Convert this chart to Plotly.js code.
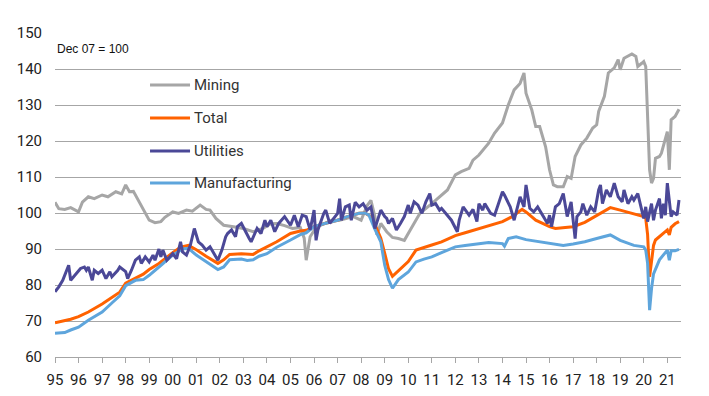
<!DOCTYPE html>
<html>
<head>
<meta charset="utf-8">
<script src="https://cdn.plot.ly/plotly-3.0.1.min.js"></script>
<style>html,body{margin:0;padding:0;background:#fff;}#chart{width:709px;height:396px;}</style>
</head>
<body>
<div id="chart"></div>
<script>
// ---- Data (index, Dec 07 = 100) ----
const seriesNames = ["Mining", "Total", "Utilities", "Manufacturing"];
const seriesColors = ["#a6a6a6", "#ff6200", "#4b4897", "#5ea5dc"];

const tickYears = ["1995-01-01","1996-01-01","1997-01-01","1998-01-01","1999-01-01","2000-01-01","2001-01-01","2002-01-01","2003-01-01","2004-01-01","2005-01-01","2006-01-01","2007-01-01","2008-01-01","2009-01-01","2010-01-01","2011-01-01","2012-01-01","2013-01-01","2014-01-01","2015-01-01","2016-01-01","2017-01-01","2018-01-01","2019-01-01","2020-01-01","2021-01-01"];
const tickLabels = ["95","96","97","98","99","00","01","02","03","04","05","06","07","08","09","10","11","12","13","14","15","16","17","18","19","20","21"];
const yTicks = [60,70,80,90,100,110,120,130,140,150];

const totalDates = ["1995-01","1995-06","1995-09","1996-01","1996-06","1997-01","1997-06","1997-10","1998-01","1998-06","1998-10","1999-01","1999-06","2000-01","2000-05","2000-09","2001-01","2001-06","2001-12","2002-03","2002-06","2002-12","2003-03","2003-06","2003-09","2004-01","2004-06","2005-01","2005-06","2005-09","2006-01","2006-06","2007-01","2007-06","2007-12","2008-03","2008-06","2008-09","2008-11","2009-01","2009-03","2009-05","2009-08","2010-01","2010-05","2010-09","2011-01","2011-06","2012-01","2012-06","2013-01","2013-06","2014-01","2014-06","2014-11","2015-01","2015-06","2016-01","2016-04","2016-09","2017-01","2017-07","2018-01","2018-08","2019-01","2019-08","2020-01","2020-02","2020-03","2020-04","2020-05","2020-06","2020-07","2020-10","2021-01","2021-02","2021-03","2021-05","2021-07"];
const totalValues = [69.5,70.0,70.5,71.2,72.5,74.7,76.5,78,80.5,82,83,84.3,86,89,90.5,91,89.8,88,86,87,88.5,88.7,88.5,88.5,89.5,90.6,92,94.3,95,95.2,96.2,97,98,99,99.9,100,99,95.5,93,88.8,84.5,82.4,84,86.5,89.7,90.5,91.1,92,93.7,94.5,95.6,96.5,97.6,99,101,100.3,98,96.2,95.7,96,96.2,97.4,99.4,101.5,100.8,99.8,99,98.5,94,82.3,87,91,92.5,94,95.3,93.9,96,97,97.6];

const manufDates = ["1995-01","1995-06","1995-09","1996-01","1996-06","1997-01","1997-06","1997-10","1998-01","1998-06","1998-10","1999-01","1999-06","2000-01","2000-06","2000-09","2001-01","2001-06","2001-12","2002-03","2002-06","2002-12","2003-03","2003-06","2003-09","2004-01","2004-06","2005-01","2005-06","2005-09","2006-01","2006-06","2007-01","2007-06","2007-12","2008-03","2008-05","2008-08","2008-11","2009-01","2009-03","2009-05","2009-08","2010-01","2010-05","2010-09","2011-01","2011-06","2012-01","2012-06","2013-01","2013-06","2014-01","2014-02","2014-04","2014-08","2015-01","2015-06","2016-01","2016-08","2017-01","2017-07","2018-01","2018-08","2019-01","2019-08","2020-01","2020-02","2020-03","2020-04","2020-05","2020-06","2020-09","2021-01","2021-02","2021-03","2021-05","2021-07"];
const manufValues = [66.6,66.8,67.5,68.3,70.2,72.5,75,77,79.8,81.3,81.5,82.7,85,88.3,90,90.2,88.3,86.5,84.3,85,87,87.2,86.8,87,88,88.7,90.5,92.5,94,94.5,96.2,97,98,99,99.9,100,99.4,95.5,92,85.5,81.5,79.1,81.5,83.6,86.4,87.2,87.8,89,90.6,91,91.5,91.8,91.5,90.8,92.9,93.4,92.6,92.2,91.5,91,91.4,92,92.9,93.9,92.4,91,90.6,89.7,86,73,79,83.1,87,89.7,86.9,89.5,89.5,89.9];

const miningDates = ["1995-01","1995-03","1995-06","1995-09","1996-01","1996-03","1996-06","1996-09","1997-01","1997-04","1997-08","1997-11","1998-01","1998-03","1998-05","1998-08","1998-10","1999-01","1999-04","1999-07","1999-09","2000-01","2000-04","2000-08","2000-11","2001-03","2001-06","2001-08","2001-11","2002-03","2002-08","2003-01","2003-06","2003-11","2004-03","2004-06","2004-10","2005-02","2005-06","2005-08","2005-09","2005-11","2006-02","2006-06","2006-10","2007-02","2007-06","2007-09","2008-01","2008-04","2008-06","2008-08","2008-09","2008-11","2009-02","2009-05","2009-08","2009-11","2010-02","2010-07","2011-01","2011-05","2011-09","2012-01","2012-04","2012-08","2012-10","2013-01","2013-06","2013-09","2014-01","2014-04","2014-07","2014-10","2014-12","2015-01","2015-04","2015-06","2015-08","2015-11","2016-01","2016-03","2016-05","2016-08","2016-10","2016-12","2017-02","2017-05","2017-08","2017-11","2018-01","2018-02","2018-05","2018-07","2018-10","2018-12","2019-01","2019-03","2019-06","2019-07","2019-09","2019-10","2019-12","2020-01","2020-02","2020-04","2020-05","2020-06","2020-07","2020-09","2020-10","2020-11","2020-12","2021-01","2021-02","2021-03","2021-05","2021-07"];
const miningValues = [103,101.2,101,101.5,100.3,103,104.5,104,105,104.5,105.9,105.3,107.8,105.9,106,103,101,98,97.3,97.6,98.8,100.3,99.9,100.8,100.5,102.2,101,100.8,98.5,96.6,96.2,95.7,94.8,95.7,97,97.1,96.5,95.7,96,93,86.9,93.4,96,97,98,98,98.5,99,98,102,103.5,99,93.9,97.1,94.8,93.2,92.9,92.4,95.3,99.9,102.6,104.5,106.4,110.6,111.5,112.4,114.7,116.1,119.4,122.2,125,130,134.2,136,138.9,133.3,128.6,124,124,118.4,112,107.8,107.3,107.3,110.1,109.6,115.7,118.9,120.8,123.6,124.5,128.2,132.4,138.9,140.3,142.6,139.8,143,144,144.2,143.5,140.7,141.6,142.1,140.7,112,108.3,109.6,115.2,115.7,116.6,118.9,120.3,122.6,112,125.9,126.8,128.8];

const utilDates = ["1995-01","1995-03","1995-05","1995-07","1995-08","1995-09","1995-11","1996-02","1996-04","1996-05","1996-06","1996-08","1996-09","1996-11","1997-01","1997-03","1997-05","1997-06","1997-09","1997-10","1998-01","1998-02","1998-04","1998-06","1998-08","1998-09","1998-11","1999-01","1999-03","1999-04","1999-06","1999-07","1999-08","1999-10","2000-01","2000-03","2000-05","2000-06","2000-08","2000-10","2000-12","2001-02","2001-04","2001-06","2001-08","2001-10","2001-12","2002-02","2002-04","2002-05","2002-07","2002-09","2002-10","2002-12","2003-02","2003-04","2003-05","2003-08","2003-10","2003-12","2004-01","2004-03","2004-05","2004-07","2004-10","2005-01","2005-03","2005-05","2005-07","2005-09","2005-11","2006-01","2006-02","2006-03","2006-06","2006-07","2006-09","2006-11","2007-01","2007-02","2007-03","2007-05","2007-07","2007-08","2007-10","2007-12","2008-02","2008-04","2008-06","2008-07","2008-08","2008-11","2009-01","2009-02","2009-03","2009-05","2009-07","2009-09","2009-11","2010-01","2010-02","2010-04","2010-06","2010-08","2010-10","2010-12","2011-01","2011-03","2011-05","2011-06","2011-09","2011-11","2012-02","2012-03","2012-05","2012-06","2012-08","2012-10","2012-12","2013-01","2013-03","2013-04","2013-07","2013-09","2013-11","2014-01","2014-02","2014-05","2014-07","2014-08","2014-10","2014-12","2015-01","2015-03","2015-05","2015-07","2015-10","2015-12","2016-01","2016-02","2016-04","2016-06","2016-08","2016-10","2016-12","2017-02","2017-03","2017-05","2017-06","2017-08","2017-10","2017-12","2018-02","2018-03","2018-04","2018-06","2018-08","2018-10","2018-12","2019-02","2019-03","2019-05","2019-07","2019-08","2019-10","2019-12","2020-01","2020-02","2020-03","2020-05","2020-06","2020-07","2020-09","2020-10","2020-11","2020-12","2021-01","2021-03","2021-04","2021-06","2021-07"];
const utilValues = [78.1,79.5,81.3,84.1,85.5,81.3,82.7,84.6,85,84.1,85,81.3,84.1,83.2,84.1,81.8,83.7,82.3,84.1,85,83.7,81.8,84.1,86.9,87.8,86,87.8,86.4,88.3,86.9,90,87.8,89.7,86.9,88.7,87.3,92,89.2,88.3,91.1,95.7,92,91.1,89.7,90.6,88.7,86.9,89.7,93.4,94.3,95.3,93.4,96.2,97.1,94.8,92.9,92,95.7,94.3,98,96.2,98,94.8,97.1,99,96.6,99.4,96.2,99.4,99,95.3,100.8,92.4,95.3,99.9,100.8,97.1,98.5,99.9,104,98,101.7,102.2,98,103,101.7,102.6,100.8,101.7,99,95.7,100.8,99,98.5,97.1,98.5,95.3,97.1,99,102.2,99.9,103.1,102.2,99.9,103.1,105.4,102.2,102.6,100.8,101.3,99.4,98,94.8,98,101.7,101,99.4,101,97.6,102.6,100.8,102.6,99.9,99.4,102.6,105.9,105,101.7,98,100.3,104.5,101.7,107.8,101.3,100.3,101.7,99,97.1,99.4,96.2,101.7,102.6,105.4,99,103.1,92.9,99,100.3,102.6,99.4,101.7,100.3,106.4,107.8,102.6,106.4,104.5,108.3,104.5,103.1,106.4,102.6,104.5,103.6,105.4,100.8,98.5,101.7,97.6,102.6,98,100.8,104,98.5,102.6,99.4,108.3,99,100.3,99.4,103.6];

const fontFam = "Roboto, 'Open Sans', 'Liberation Sans', Arial, sans-serif";

function line(name, x, y, color) {
  return { type: "scatter", mode: "lines", name: name, x: x, y: y,
           line: { color: color, width: 3, shape: "linear" }, hoverinfo: "skip", showlegend: false };
}

const traces = [
  line(seriesNames[0], miningDates, miningValues, seriesColors[0]),
  line(seriesNames[1], totalDates, totalValues, seriesColors[1]),
  line(seriesNames[3], manufDates, manufValues, seriesColors[3]),
  line(seriesNames[2], utilDates, utilValues, seriesColors[2])
];

// custom legend (positions in paper coordinates)
const legendY = [0.8395, 0.7377, 0.6358, 0.537];
const shapes = [];
const annotations = [];
seriesNames.forEach((n, i) => {
  shapes.push({ type: "line", xref: "paper", yref: "paper", x0: 0.1518, x1: 0.2157, y0: legendY[i], y1: legendY[i],
                line: { color: seriesColors[i], width: 3 } });
  annotations.push({ xref: "paper", yref: "paper", x: 0.2190, y: legendY[i], xanchor: "left", yanchor: "middle",
                     text: n, showarrow: false, font: { family: fontFam, size: 15, color: "#333" } });
});
annotations.push({ xref: "paper", yref: "paper", x: 0.0, y: 0.951, xanchor: "left", yanchor: "middle",
                   text: "Dec 07 = 100", showarrow: false,
                   font: { family: "'Liberation Sans', Arial, sans-serif", size: 12, color: "#111" } });

const layout = {
  width: 709, height: 396,
  margin: { l: 55, r: 28, t: 33, b: 39 },
  paper_bgcolor: "#fff", plot_bgcolor: "#fff",
  showlegend: false,
  xaxis: {
    type: "date", range: ["1995-01-01", "2021-08-01"],
    tickmode: "array", tickvals: tickYears, ticktext: tickLabels,
    showgrid: false, zeroline: false,
    showline: true, linecolor: "#a6a6a6", linewidth: 1,
    ticks: "outside", ticklen: 5, tickcolor: "#a6a6a6",
    ticklabelstandoff: 4,
    tickfont: { family: fontFam, size: 15, color: "#222" }
  },
  yaxis: {
    range: [60, 150], tickmode: "array", tickvals: yTicks,
    showgrid: true, gridcolor: "#a6a6a6", gridwidth: 1,
    zeroline: false, showline: false, ticks: "",
    ticklabelstandoff: 12,
    tickfont: { family: fontFam, size: 15, color: "#222" }
  },
  shapes: shapes,
  annotations: annotations
};

Plotly.newPlot("chart", traces, layout, { displayModeBar: false, staticPlot: true });
</script>
</body>
</html>
